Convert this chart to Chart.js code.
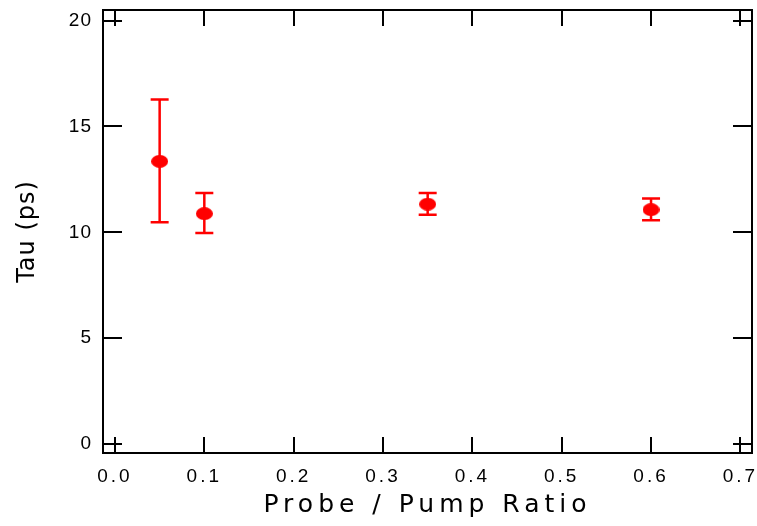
<!DOCTYPE html>
<html>
<head>
<meta charset="utf-8">
<script src="https://cdn.jsdelivr.net/npm/chart.js@4/dist/chart.umd.min.js"></script>
<style>
  html, body { margin: 0; padding: 0; background: #fff; }
  .chart-container { width: 757px; height: 526px; }
</style>
</head>
<body>
<div class="chart-container"><canvas class="chart"></canvas></div>
<script>
// values
const ratio = [0.05, 0.1, 0.35, 0.6];
const tau   = [13.35, 10.88, 11.33, 11.07];
const tauHi = [16.27, 11.86, 11.86, 11.6];   // top of error bar
const tauLo = [10.47, 9.97, 10.83, 10.57];   // bottom of error bar
const xTicks = [0, 0.1, 0.2, 0.3, 0.4, 0.5, 0.6, 0.7];
const yTicks = [0, 5, 10, 15, 20];

const RED = '#ff0000';

// oval marker, a bit wider than tall
function ovalDot(w, h, color) {
  const c = document.createElement('canvas');
  c.width = w; c.height = h;
  const g = c.getContext('2d');
  g.fillStyle = color;
  g.beginPath();
  g.ellipse(w / 2, h / 2, w / 2, h / 2, 0, 0, 2 * Math.PI);
  g.fill();
  return c;
}

// chart.js has no letter spacing option, so wrap the label/title drawing
function spreadText(labelGap, titleGap) {
  return function (scale) {
    if (scale.spreadDone) return;
    const drawLabels = scale.drawLabels;
    const drawTitle = scale.drawTitle;
    scale.drawLabels = function (area) {
      this.ctx.save(); this.ctx.letterSpacing = labelGap;
      drawLabels.call(this, area);
      this.ctx.restore();
    };
    scale.drawTitle = function () {
      this.ctx.save(); this.ctx.letterSpacing = titleGap;
      drawTitle.call(this);
      this.ctx.restore();
    };
    scale.spreadDone = true;
  };
}

const errorBars = {
  id: 'errorBars',
  beforeDatasetsDraw(chart) {
    const { ctx, scales: { x, y } } = chart;
    ctx.save();
    ctx.strokeStyle = RED;
    ctx.lineWidth = 2.5;
    ratio.forEach((r, i) => {
      const px = x.getPixelForValue(r);
      const top = y.getPixelForValue(tauHi[i]);
      const bot = y.getPixelForValue(tauLo[i]);
      ctx.beginPath();
      ctx.moveTo(px, top); ctx.lineTo(px, bot);
      ctx.moveTo(px - 9, top); ctx.lineTo(px + 9, top);
      ctx.moveTo(px - 9, bot); ctx.lineTo(px + 9, bot);
      ctx.stroke();
    });
    ctx.restore();
  }
};

// box round the plot with inward ticks on all four sides
const frame = {
  id: 'frame',
  afterDraw(chart) {
    const { ctx, chartArea: a, scales: { x, y } } = chart;
    ctx.save();
    ctx.strokeStyle = '#000';
    ctx.lineWidth = 2;
    ctx.beginPath();
    x.ticks.forEach(t => {
      const px = Math.round(x.getPixelForValue(t.value));
      ctx.moveTo(px, a.bottom); ctx.lineTo(px, a.bottom - 16);
      ctx.moveTo(px, a.top); ctx.lineTo(px, a.top + 16);
    });
    y.ticks.forEach(t => {
      const py = Math.round(y.getPixelForValue(t.value));
      ctx.moveTo(a.left, py); ctx.lineTo(a.left + 19, py);
      ctx.moveTo(a.right, py); ctx.lineTo(a.right - 19, py);
    });
    ctx.stroke();
    ctx.strokeRect(a.left, a.top, a.right - a.left, a.bottom - a.top);
    ctx.restore();
  }
};

const config = {
  type: 'scatter',
  data: {
    datasets: [{
      data: ratio.map((r, i) => ({ x: r, y: tau[i] })),
      pointStyle: ovalDot(17, 13, RED),
      backgroundColor: RED,
      borderColor: RED
    }]
  },
  options: {
    responsive: true,
    maintainAspectRatio: false,
    animation: false,
    layout: { padding: { top: 10, right: 5, bottom: 0, left: 0 } },
    plugins: { legend: { display: false }, tooltip: { enabled: false } },
    scales: {
      x: {
        type: 'linear',
        min: -0.0134,
        max: 0.713,
        grid: { display: false, drawTicks: false },
        border: { display: false },
        afterBuildTicks: s => { s.ticks = xTicks.map(v => ({ value: v })); },
        ticks: {
          font: { family: 'Liberation Sans', size: 19 }, color: '#000', padding: 12,
          maxRotation: 0, autoSkip: false,
          callback: v => v.toFixed(1)
        },
        title: {
          display: true, text: 'Probe / Pump Ratio', color: '#000',
          font: { family: 'DejaVu Sans', size: 25 }, padding: { top: 0, bottom: 6 }
        },
        afterFit: s => {
          s.height = 73;
          s.paddingLeft = 0; s.paddingRight = 0;
          spreadText('3px', '5px')(s);
        }
      },
      y: {
        type: 'linear',
        min: -0.425,
        max: 20.5,
        grid: { display: false, drawTicks: false },
        border: { display: false },
        afterBuildTicks: s => { s.ticks = yTicks.map(v => ({ value: v })); },
        ticks: { font: { family: 'Liberation Sans', size: 19 }, color: '#000', padding: 11 },
        title: {
          display: true, text: 'Tau (ps)', color: '#000',
          font: { family: 'DejaVu Sans', size: 24 }, padding: { top: 13, bottom: 0 }
        },
        afterFit: s => {
          s.width = 103;
          s.paddingTop = 0; s.paddingBottom = 0;
          spreadText('1px', '1px')(s);
        }
      }
    }
  },
  plugins: [errorBars, frame]
};

const myChart = new Chart(document.querySelector('.chart'), config);
</script>
</body>
</html>
